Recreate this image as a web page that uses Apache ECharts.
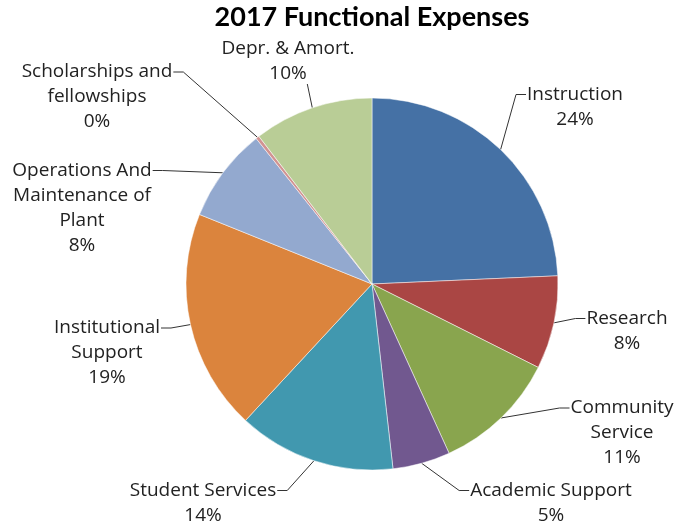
<!DOCTYPE html>
<html>
<head>
<meta charset="utf-8">
<script src="https://cdn.jsdelivr.net/npm/echarts@6/dist/echarts.min.js"></script>
<style>
  html, body { margin: 0; padding: 0; background: #fff; }
  #pie-box { width: 678px; height: 527px; }
</style>
</head>
<body>
<div id="pie-box"></div>
<script>
// slice data, clockwise from 12 o'clock (percent of total)
var categories = [
  'Instruction',
  'Research',
  'Community\nService',
  'Academic Support',
  'Student Services',
  'Institutional\nSupport',
  'Operations And\nMaintenance of\nPlant',
  'Scholarships and\nfellowships',
  'Depr. & Amort.'
];
var values = [24.3, 8.1, 10.8, 5.0, 13.7, 19.2, 8.2, 0.3, 10.4];
var colors = ['#4571A5', '#AA4644', '#89A54E', '#71588F', '#4198AF',
              '#DB843D', '#93A9CF', '#D19392', '#B9CD96'];

// where each label block sits (center of block), and which side the leader line meets
var labelPos = [
  [575, 107], [627, 331], [622, 433], [551, 503], [203, 503],
  [107, 353], [82, 208], [97, 97], [288, 61]
];
var lineSide = ['left', 'left', 'left', 'left', 'right', 'right', 'right', 'right', 'bottom'];

var LABEL_FONT = '19px "Open Sans"';
var LINE_H = 25;

var measureCtx = document.createElement('canvas').getContext('2d');
function textWidth(s) {
  measureCtx.font = LABEL_FONT;
  return measureCtx.measureText(s).width;
}

var chartDom = document.getElementById('pie-box');
var pieChart = echarts.init(chartDom);

var seriesData = categories.map(function (name, i) {
  return { name: name, value: values[i], itemStyle: { color: colors[i] } };
});

var option = {
  animation: false,
  title: {
    text: '2017 Functional Expenses',
    left: 367,
    top: -1,
    textAlign: 'center',
    textStyle: {
      fontFamily: 'Lato',
      fontSize: 27,
      fontWeight: 'bold',
      color: '#000'
    }
  },
  series: [
    {
      type: 'pie',
      center: [372, 284],
      radius: 186,
      startAngle: 90,
      clockwise: true,
      data: seriesData,
      itemStyle: {
        borderColor: '#fff',
        borderWidth: 0.5
      },
      label: {
        show: true,
        fontFamily: 'Open Sans',
        fontSize: 19,
        lineHeight: LINE_H,
        color: '#222',
        align: 'center',
        formatter: function (p) {
          return p.name + '\n' + Math.round(p.percent) + '%';
        }
      },
      labelLine: {
        show: true,
        length: 10,
        length2: 10,
        lineStyle: { color: '#333', width: 1 }
      },
      labelLayout: function (params) {
        var i = params.dataIndex;
        var pos = labelPos[i];
        var lines = categories[i].split('\n');
        var nLines = lines.length + 1;
        var start = params.labelLinePoints ? params.labelLinePoints[0] : null;
        var out = {
          x: pos[0],
          y: pos[1],
          align: 'center',
          verticalAlign: 'middle',
          moveOverlap: false
        };
        if (start) {
          var side = lineSide[i];
          var firstY = pos[1] - (nLines - 1) * LINE_H / 2;
          var w = textWidth(lines[0]);
          var end, mid;
          if (side === 'left') {
            end = [pos[0] - w / 2 - 1, firstY];
            mid = [end[0] - 10, firstY];
          } else if (side === 'right') {
            end = [pos[0] + w / 2 + 1, firstY];
            mid = [end[0] + 10, firstY];
          } else {
            var bottom = pos[1] + nLines * LINE_H / 2 - 2;
            end = [start[0] - 5, bottom];
            mid = end;
          }
          out.labelLinePoints = [start, mid, end];
        }
        return out;
      }
    }
  ]
};

option && pieChart.setOption(option);
</script>
</body>
</html>
